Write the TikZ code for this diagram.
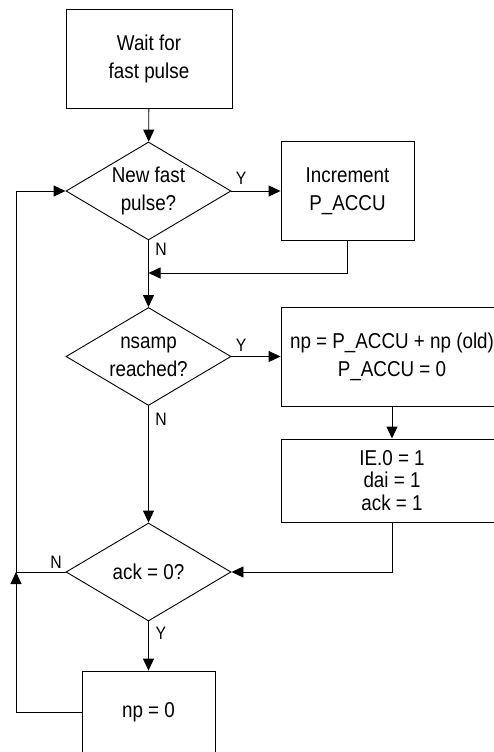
\documentclass[tikz,border=0pt]{standalone}
\usepackage{fontspec}
\setmainfont{Liberation Sans}[FakeStretch=0.875]
\usetikzlibrary{arrows.meta, shapes.geometric, positioning}

\begin{document}
\begin{tikzpicture}[x=1pt, y=-1pt, line width=0.9pt,
    every node/.style={font=\fontsize{21.5}{28}\selectfont},
    process/.style={draw, rectangle, align=center, inner sep=0pt},
    decision/.style={draw, diamond, aspect=1.68, align=center, inner sep=0pt,
        minimum width=165pt, minimum height=98pt},
    lbl/.style={font=\fontsize{18}{20}\selectfont, inner sep=0pt},
    arr/.style={-{Triangle[length=12pt,width=11pt]}}]

            % Khung hình
            \useasboundingbox (0,0) rectangle (493,752);

            % Các khối xử lý và điều kiện
            \node[process, minimum width=166pt, minimum height=99pt] (wait) at (149,58.5) {Wait for\\fast pulse};
            \node[decision] (newp) at (148.5,191) {New fast\\pulse?};
            \node[process, minimum width=133pt, minimum height=99pt] (incr) at (347.5,191) {Increment\\P\_ACCU};
            \node[decision] (nsamp) at (148.5,356.5) {nsamp\\reached?};
            \node[process, minimum width=222pt, minimum height=99pt] (upd) at (392,356.5) {np = P\_ACCU + np (old)\\P\_ACCU = 0};
            \node[process, minimum width=222pt, minimum height=83pt, font=\fontsize{21.5}{22.5}\selectfont] (flags) at (392,480.5) {IE.0 = 1\\dai = 1\\ack = 1};
            \node[decision] (ack) at (148.5,572) {ack = 0?};
            \node[process, minimum width=133pt, minimum height=82pt] (clr) at (148.5,712) {np = 0};

            % Điểm nối
            \coordinate (join) at (148.5,273);
            \coordinate (rail) at (16,572);

            % Vẽ các mũi tên
            \draw[arr] (wait) -- (newp);
            \draw[arr] (newp) -- (incr);
            \draw[arr] (newp) -- (nsamp);
            \draw[arr] (incr.south) |- (join);
            \draw[arr] (nsamp) -- (upd);
            \draw[arr] (upd) -- (flags);
            \draw[arr] (nsamp) -- (ack);
            \draw[arr] (flags.south) |- (ack.east);
            \draw[arr] (ack) -- (clr);
            \draw[arr] (clr.west) -| (rail);
            \draw[arr] (ack.west) -- (rail) |- (newp.west);

            % Nhãn Y / N
            \node[lbl] (y1) at (241,178) {Y};
            \node[lbl] (n1) at (161,249) {N};
            \node[lbl] (y2) at (241,345) {Y};
            \node[lbl] (n2) at (161,419) {N};
            \node[lbl] (n3) at (56,562) {N};
            \node[lbl] (y3) at (161,633) {Y};

\end{tikzpicture}
\end{document}
